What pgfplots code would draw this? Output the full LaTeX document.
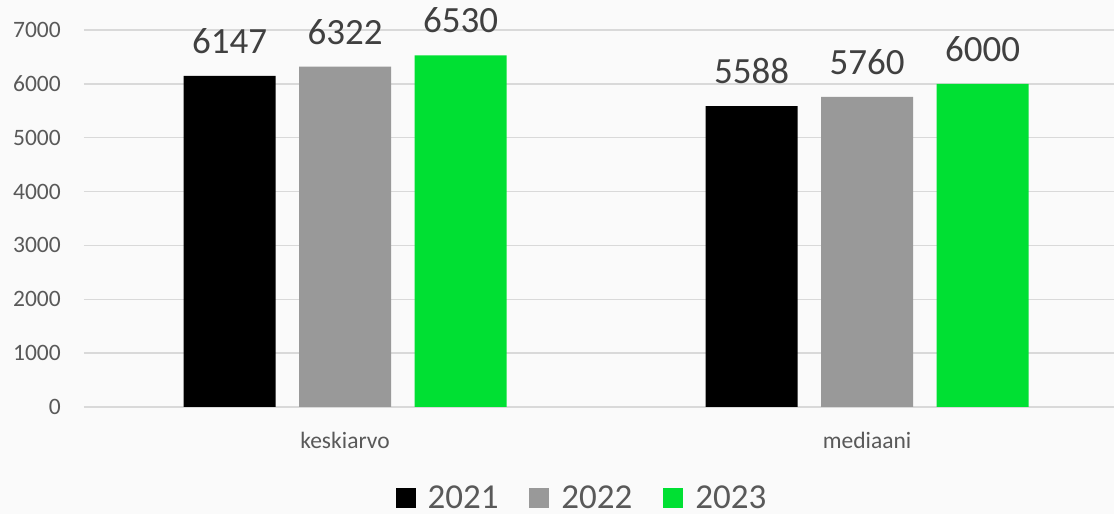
\documentclass[border=0pt]{standalone}
\usepackage{fontspec}
\setmainfont{Carlito}
\usepackage{pgfplots}
\pgfplotsset{compat=1.18}

\definecolor{bgcol}{HTML}{FAFAFA}
\definecolor{gridcol}{HTML}{D9D9D9}
\definecolor{tickcol}{HTML}{595959}
\definecolor{valcol}{HTML}{404040}
\definecolor{c2021}{HTML}{000000}
\definecolor{c2022}{HTML}{999999}
\definecolor{c2023}{HTML}{00E033}

\begin{document}
\begin{tikzpicture}[x=1pt,y=1pt]
\path[use as bounding box, fill=bgcol] (0,0) rectangle (1114,514);
\begin{axis}[
    at={(84pt,107pt)}, anchor=south west,
    scale only axis,
    width=1030pt, height=377pt,
    xmin=-0.5, xmax=1.473,
    ymin=0, ymax=7000,
    ybar=23.5pt,
    bar width=92pt,
    xtick={0,1},
    xticklabels={keskiarvo,mediaani},
    ytick={0,1000,...,7000},
    ymajorgrids=true,
    grid style={gridcol, line width=1.5pt},
    axis line style={draw=none},
    tick style={draw=none},
    major tick length=0pt,
    /pgf/number format/assume math mode=true,
    /pgf/number format/1000 sep={},
    yticklabel style={font=\fontsize{23.5}{28}\selectfont, text=tickcol, inner sep=0pt, xshift=-23pt},
    xticklabel style={font=\fontsize{23.5}{28}\selectfont, text=tickcol, inner sep=0pt, yshift=-25pt},
    clip=false,
    nodes near coords,
    every node near coord/.append style={font=\fontsize{37}{44}\selectfont, text=valcol, inner sep=0pt, yshift=22pt},
    legend columns=-1,
    legend style={
        draw=none, fill=none,
        at={(0.4825,-0.241)}, anchor=center,
        font=\fontsize{35}{42}\selectfont, text=tickcol,
        nodes={inner sep=0pt},
        /tikz/every odd column/.append style={column sep=12pt},
        /tikz/every even column/.append style={column sep=31pt},
    },
    legend image code/.code={\fill[#1] (0pt,-10pt) rectangle (20pt,10pt);},
]
\addplot[fill=c2021, draw=none]
    coordinates {(0,6147) (1,5588)};
\addlegendentry{2021}
\addplot[fill=c2022, draw=none]
    coordinates {(0,6322) (1,5760)};
\addlegendentry{2022}
\addplot[fill=c2023, draw=none]
    coordinates {(0,6530) (1,6000)};
\addlegendentry{2023}
\end{axis}
\end{tikzpicture}
\end{document}
